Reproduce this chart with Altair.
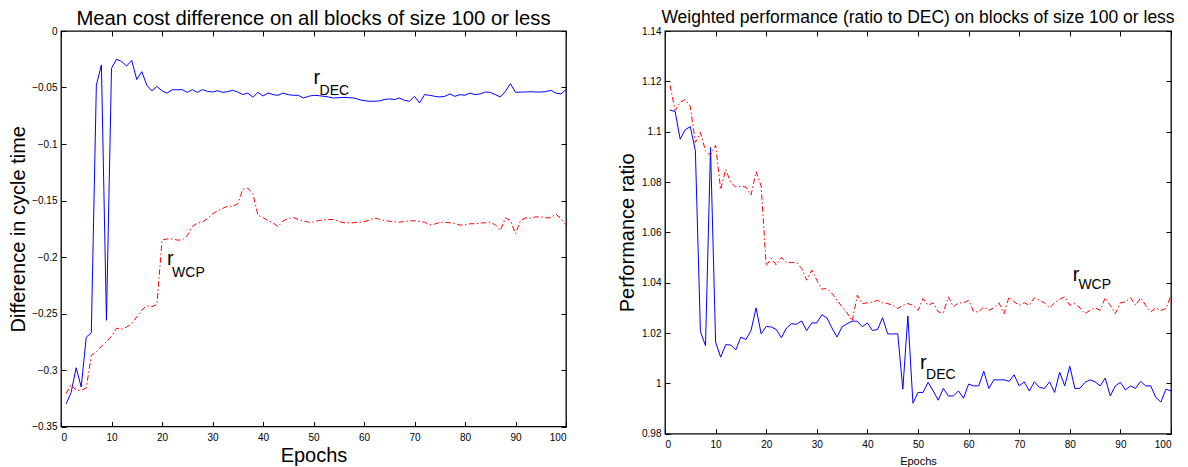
import altair as alt
import pandas as pd

FONT = "Liberation Sans"

epochs = list(range(1, 101))

left_dec = [
    -0.330, -0.320, -0.298, -0.315, -0.271, -0.267, -0.048, -0.030, -0.256, -0.033,
    -0.025, -0.027, -0.031, -0.026, -0.043, -0.036, -0.048, -0.053, -0.049, -0.053,
    -0.055, -0.052, -0.052, -0.0519, -0.0543, -0.0519, -0.0543, -0.0519, -0.0534, -0.054,
    -0.0528, -0.0543, -0.0537, -0.0525, -0.054, -0.0563, -0.0549, -0.0587, -0.0543, -0.0575,
    -0.0549, -0.0563, -0.0569, -0.0549, -0.0563, -0.0569, -0.0569, -0.0593, -0.0578, -0.0569,
    -0.0572, -0.0578, -0.0584, -0.0593, -0.059, -0.0587, -0.059, -0.0593, -0.0607, -0.0616,
    -0.0622, -0.0622, -0.0619, -0.0607, -0.0601, -0.0607, -0.0593, -0.0613, -0.0622, -0.0578,
    -0.0637, -0.0563, -0.0569, -0.0578, -0.0584, -0.0578, -0.0557, -0.0578, -0.0563, -0.0569,
    -0.0549, -0.0563, -0.0557, -0.054, -0.0543, -0.0563, -0.0584, -0.0534, -0.0466, -0.0543,
    -0.054, -0.054, -0.0537, -0.054, -0.054, -0.0537, -0.0525, -0.0549, -0.0557, -0.0519,
]

left_wcp = [
    -0.321, -0.313, -0.318, -0.318, -0.316, -0.287, -0.284, -0.279, -0.275, -0.270,
    -0.263, -0.264, -0.262, -0.259, -0.253, -0.247, -0.243, -0.244, -0.242, -0.185,
    -0.184, -0.184, -0.185, -0.185, -0.181, -0.173, -0.170, -0.169, -0.166, -0.162,
    -0.159, -0.157, -0.155, -0.155, -0.153, -0.140, -0.139, -0.144, -0.163, -0.165,
    -0.168, -0.170, -0.173, -0.168, -0.166, -0.165, -0.167, -0.168, -0.1692, -0.169,
    -0.1677, -0.1671, -0.1668, -0.1668, -0.1686, -0.1697, -0.1697, -0.1697, -0.1692, -0.1689,
    -0.1674, -0.1656, -0.1665, -0.1677, -0.1683, -0.1689, -0.1692, -0.1686, -0.168, -0.168,
    -0.1686, -0.1692, -0.1715, -0.1709, -0.1694, -0.1692, -0.1697, -0.1703, -0.1718, -0.1715,
    -0.1706, -0.1706, -0.170, -0.1697, -0.1692, -0.1715, -0.1765, -0.1653, -0.1677, -0.1794,
    -0.1677, -0.1653, -0.1656, -0.1645, -0.1645, -0.1653, -0.1653, -0.162, -0.1662, -0.1715,
]

right_dec = [
    1.1086, 1.108, 1.097, 1.1008, 1.102, 1.0924, 1.0206, 1.015, 1.0937, 1.0164,
    1.0104, 1.0154, 1.0152, 1.0133, 1.0184, 1.0174, 1.021, 1.030, 1.0197, 1.0226,
    1.0224, 1.0214, 1.0181, 1.022, 1.0237, 1.0235, 1.0248, 1.021, 1.024, 1.024,
    1.0273, 1.026, 1.022, 1.0184, 1.0225, 1.0237, 1.0247, 1.0247, 1.0225, 1.024,
    1.021, 1.0214, 1.0261, 1.0197, 1.0196, 1.0197, 0.9977, 1.0268, 0.9921, 0.9964,
    0.9964, 1.0004, 0.997, 0.9933, 0.998, 0.995, 0.995, 0.997, 0.9941, 0.9997,
    0.999, 0.999, 1.0048, 0.998, 1.0014, 1.0014, 1.0014, 1.0008, 1.0034, 0.999,
    1.0006, 0.997, 1.0006, 0.9984, 0.998, 1.0006, 0.9964, 1.0044, 0.999, 1.0068,
    0.998, 0.998, 1.0004, 1.0014, 1.0006, 0.999, 1.0021, 0.995, 0.999, 1.0004,
    0.9974, 0.999, 0.998, 1.0008, 0.999, 0.999, 0.9944, 0.9926, 0.9977, 0.997,
]

right_wcp = [
    1.1184, 1.1084, 1.1117, 1.1128, 1.110, 1.0957, 1.0997, 1.0924, 1.0906, 1.0946,
    1.077, 1.085, 1.0797, 1.078, 1.0783, 1.078, 1.0748, 1.0841, 1.0784, 1.0467,
    1.0497, 1.047, 1.050, 1.048, 1.048, 1.048, 1.0457, 1.041, 1.045, 1.041,
    1.0374, 1.0377, 1.0357, 1.033, 1.0304, 1.028, 1.0247, 1.035, 1.0317, 1.032,
    1.0323, 1.033, 1.032, 1.0317, 1.031, 1.0297, 1.031, 1.0317, 1.031, 1.029,
    1.0337, 1.031, 1.032, 1.0284, 1.028, 1.0344, 1.0304, 1.032, 1.032, 1.033,
    1.0284, 1.0284, 1.0304, 1.029, 1.030, 1.032, 1.0277, 1.0344, 1.0324, 1.031,
    1.032, 1.031, 1.034, 1.033, 1.032, 1.030, 1.032, 1.0334, 1.0344, 1.031,
    1.0317, 1.030, 1.0277, 1.029, 1.030, 1.029, 1.034, 1.031, 1.0277, 1.032,
    1.0324, 1.034, 1.031, 1.034, 1.031, 1.0284, 1.030, 1.029, 1.0297, 1.035,
]

x_ticks = [0, 10, 20, 30, 40, 50, 60, 70, 80, 90, 100]
left_y_ticks = [-0.35, -0.3, -0.25, -0.2, -0.15, -0.1, -0.05, 0]
right_y_ticks = [0.98, 1.0, 1.02, 1.04, 1.06, 1.08, 1.1, 1.12, 1.14]

# label anchors: (epoch, value) of "r" and of its subscript
left_r_text = ["r", "r"]
left_r_epoch = [50.0, 21.0]
left_r_value = [-0.0473, -0.2073]
left_sub_text = ["DEC", "WCP"]
left_sub_epoch = [51.2, 22.0]
left_sub_value = [-0.0563, -0.2176]

right_r_text = ["r", "r"]
right_r_epoch = [80.6, 50.4]
right_r_value = [1.0407, 1.0058]
right_sub_text = ["WCP", "DEC"]
right_sub_epoch = [81.7, 51.6]
right_sub_value = [1.0375, 1.0018]


def axis_common(**kw):
    base = dict(
        grid=False, domain=False, ticks=True, tickSize=5, offset=-5,
        tickColor="black", tickWidth=1, labelColor="black", titleColor="black",
        labelFont=FONT, titleFont=FONT, labelFontSize=10, titleFontWeight="normal",
    )
    base.update(kw)
    return alt.Axis(**base)


def panel(dec, wcp, y_domain, y_ticks, title_text, title_size, title_offset,
          y_title, y_title_pad, x_title_size, x_title_pad,
          r_text, r_epoch, r_value, s_text, s_epoch, s_value, w, h):
    df = pd.DataFrame({"epoch": epochs, "dec": dec, "wcp": wcp})
    xs = alt.Scale(domain=[0, 100], nice=False, zero=False)
    ys = alt.Scale(domain=y_domain, nice=False, zero=False)

    blue = alt.Chart(df).mark_line(color="#0000ff", strokeWidth=1, clip=True).encode(
        x=alt.X("epoch:Q", scale=xs, axis=axis_common(
            orient="bottom", values=x_ticks, format="d", title="Epochs",
            titleFontSize=x_title_size, labelPadding=5.5, titlePadding=x_title_pad)),
        y=alt.Y("dec:Q", scale=ys, axis=axis_common(
            orient="left", values=y_ticks, format=".2~f", title=y_title,
            titleFontSize=20, labelPadding=4, titlePadding=y_title_pad)),
    )
    red = alt.Chart(df).mark_line(color="#ff0000", strokeWidth=1, strokeDash=[5.5, 2.5, 1.5, 2.5], clip=True).encode(
        x=alt.X("epoch:Q", scale=xs, axis=axis_common(
            orient="top", values=x_ticks, labels=False, title=None)),
        y=alt.Y("wcp:Q", scale=ys, axis=axis_common(
            orient="right", values=y_ticks, labels=False, title=None)),
    )
    rdf = pd.DataFrame({"epoch": r_epoch, "value": r_value, "label": r_text})
    sdf = pd.DataFrame({"epoch": s_epoch, "value": s_value, "label": s_text})
    r_layer = alt.Chart(rdf).mark_text(
        align="left", baseline="alphabetic", fontSize=20, font=FONT, color="black"
    ).encode(
        x=alt.X("epoch:Q", scale=xs, axis=None),
        y=alt.Y("value:Q", scale=ys, axis=None),
        text="label:N",
    )
    s_layer = alt.Chart(sdf).mark_text(
        align="left", baseline="alphabetic", fontSize=14, font=FONT, color="black"
    ).encode(
        x=alt.X("epoch:Q", scale=xs, axis=None),
        y=alt.Y("value:Q", scale=ys, axis=None),
        text="label:N",
    )
    return alt.layer(blue, red, r_layer, s_layer).resolve_axis(
        x="independent", y="independent"
    ).properties(
        width=w, height=h,
        title=alt.TitleParams(
            text=title_text, fontSize=title_size, font=FONT, fontWeight="normal",
            color="black", offset=title_offset, frame="group", anchor="middle",
        ),
    )


left = panel(left_dec, left_wcp, [-0.35, 0], left_y_ticks,
             "Mean cost difference on all blocks of size 100 or less", 20.3, -3,
             "Difference in cycle time", 3, 20, 3,
             left_r_text, left_r_epoch, left_r_value,
             left_sub_text, left_sub_epoch, left_sub_value, 505, 395.5)

right = panel(right_dec, right_wcp, [0.98, 1.14], right_y_ticks,
              "Weighted performance (ratio to DEC) on blocks of size 100 or less", 17.5, -0.2,
              "Performance ratio", 4, 11, 6,
              right_r_text, right_r_epoch, right_r_value,
              right_sub_text, right_sub_epoch, right_sub_value, 506, 402.7)

chart = alt.hconcat(left, right, spacing=48).properties(
    padding={"left": 0, "top": 0, "right": 0, "bottom": 0},
    background="white",
).configure_view(stroke="black", strokeWidth=1.3)

chart.save("out.html", embed_options={"renderer": "svg", "actions": False})
